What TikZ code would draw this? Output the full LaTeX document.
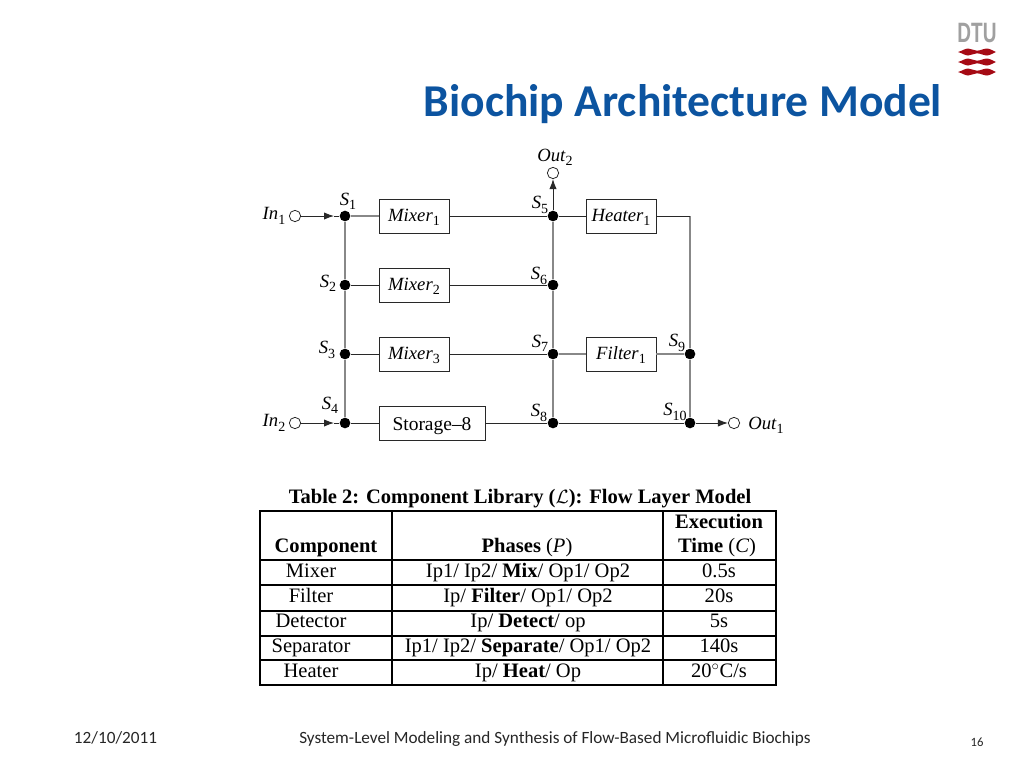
\documentclass[tikz,border=0pt]{standalone}
\usepackage{fontspec}
\setmainfont{Liberation Serif}
\newfontfamily\slidefont{Carlito}
\newfontfamily\logofont{Liberation Sans}
\usepackage{xcolor}
\usepackage{tikz}
\usetikzlibrary{arrows.meta}
\definecolor{titleblue}{RGB}{12,84,160}
\definecolor{wiregray}{RGB}{136,136,136}
\definecolor{wiredark}{RGB}{40,40,40}
\definecolor{logored}{RGB}{165,10,20}
\definecolor{logogray}{RGB}{160,160,160}
\newcommand{\unitlabel}[2]{\textit{#1}\raisebox{-0.5ex}{\fontsize{10.5}{11}\selectfont #2}}
\newcommand{\logowave}[1]{\fill[logored, shift={(0,#1)}] (958,0) .. controls (962,-1) and (965,-3.5) .. (968,-3.5) .. controls (971,-3.5) and (974,-1.3) .. (977,-1.3) .. controls (980,-1.3) and (984,-3.5) .. (987,-3.5) .. controls (990,-3.5) and (993,-1) .. (996,0) .. controls (993,1) and (990,3.5) .. (987,3.5) .. controls (984,3.5) and (980,1.3) .. (977,1.3) .. controls (974,1.3) and (971,3.5) .. (968,3.5) .. controls (965,3.5) and (962,1) .. (958,0) -- cycle;}

\begin{document}
\begin{tikzpicture}[
    x=0.75pt, y=-0.75pt,
    unitbox/.style={rectangle, draw=wiredark, line width=0.7pt, minimum height=25.5pt, inner sep=0pt, align=center, text height=9.5pt, text depth=2pt, font=\fontsize{14}{15}\selectfont},
    junction/.style={circle, fill=black, minimum size=8pt, inner sep=0pt},
    port/.style={circle, draw=wiredark, fill=white, line width=0.6pt, minimum size=8.5pt, inner sep=0pt},
    tag/.style={inner sep=0pt, font=\fontsize{14}{15}\selectfont},
    wire/.style={draw=wiredark, line width=0.7pt},
    bus/.style={draw=wiregray, line width=1pt},
    cell/.style={inner sep=0pt, anchor=base, font=\fontsize{15.4}{17}\selectfont},
    tablerule/.style={draw=black, line width=1.1pt},
    slide/.style={inner sep=0pt, anchor=base, text=black!85, font=\slidefont\fontsize{12.9}{15}\selectfont}
]
    \useasboundingbox (0,0) rectangle (1024,768);

    % Header
    \node[inner sep=0pt, anchor=base, text=titleblue, font=\slidefont\bfseries\fontsize{34.2}{38}\selectfont] (title) at (683,116) {Biochip Architecture Model};
    \node[inner sep=0pt, text=logogray, xscale=0.68, transform shape, font=\logofont\bfseries\fontsize{21}{22}\selectfont] (logo) at (977,33) {DTU};
    \logowave{52}
    \logowave{62}
    \logowave{72}

    % Junctions
    \node[junction] (s1) at (345,216) {};
    \node[junction] (s2) at (345,285) {};
    \node[junction] (s3) at (345,354) {};
    \node[junction] (s4) at (345,423) {};
    \node[junction] (s5) at (553,216) {};
    \node[junction] (s6) at (553,285) {};
    \node[junction] (s7) at (553,354) {};
    \node[junction] (s8) at (553,423) {};
    \node[junction] (s9) at (690,354) {};
    \node[junction] (s10) at (690,423) {};
    \coordinate (bend) at (690,216);

    % Components
    \node[unitbox, minimum width=52.5pt] (mixer1) at (414,216) {\unitlabel{Mixer}{1}};
    \node[unitbox, minimum width=52.5pt] (mixer2) at (414,285) {\unitlabel{Mixer}{2}};
    \node[unitbox, minimum width=52.5pt] (mixer3) at (414,354) {\unitlabel{Mixer}{3}};
    \node[unitbox, minimum width=79.5pt, text height=12pt, text depth=1pt, font=\fontsize{14.6}{15}\selectfont] (storage) at (432,423) {Storage--8};
    \node[unitbox, minimum width=52.5pt] (heater) at (621,216) {\unitlabel{Heater}{1}};
    \node[unitbox, minimum width=52.5pt] (filter) at (621,354) {\unitlabel{Filter}{1}};

    % Ports
    \node[port] (in1) at (295,216) {};
    \node[port] (in2) at (295,423) {};
    \node[port] (out1) at (734,423) {};
    \node[port] (out2) at (553,173) {};
    \coordinate (tip1) at (334,216);
    \coordinate (tip2) at (334,423);

    % Wires
    \draw[bus] (s1) -- (s2);
    \draw[bus] (s2) -- (s3);
    \draw[bus] (s3) -- (s4);
    \draw[bus] (s5) -- (s6);
    \draw[bus] (s6) -- (s7);
    \draw[bus] (s7) -- (s8);
    \draw[bus] (bend) -- (s9);
    \draw[bus] (s9) -- (s10);
    \draw[wire, -{Latex[length=7.5pt,width=5.5pt]}] (in1) -- (tip1);
    \draw[wire] (tip1) -- (s1);
    \draw[wire, -{Latex[length=7.5pt,width=5.5pt]}] (in2) -- (tip2);
    \draw[wire] (tip2) -- (s4);
    \draw[bus] (s1) -- (mixer1);
    \draw[wire] (mixer1) -- (s5);
    \draw[wire] (s2) -- (mixer2);
    \draw[wire] (mixer2) -- (s6);
    \draw[wire] (s3) -- (mixer3);
    \draw[wire] (mixer3) -- (s7);
    \draw[wire] (s4) -- (storage);
    \draw[wire] (storage) -- (s8);
    \draw[wire] (s5) -- (heater);
    \draw[wire] (heater) -- (bend);
    \draw[bus] (s7) -- (filter);
    \draw[bus] (filter) -- (s9);
    \draw[wire] (s8) -- (s10);
    \draw[wire, -{Latex[length=7.5pt,width=5.5pt]}] (s10) -- (out1);
    \draw[wire, -{Latex[length=7.5pt,width=5.5pt]}] (s5) -- (out2);

    % Labels
    \node[tag] (ls1) at (348,201) {\unitlabel{S}{1}};
    \node[tag] (ls2) at (328,283) {\unitlabel{S}{2}};
    \node[tag] (ls3) at (327,350) {\unitlabel{S}{3}};
    \node[tag] (ls4) at (330,405) {\unitlabel{S}{4}};
    \node[tag] (ls5) at (540,205) {\unitlabel{S}{5}};
    \node[tag] (ls6) at (539,276) {\unitlabel{S}{6}};
    \node[tag] (ls7) at (540,343) {\unitlabel{S}{7}};
    \node[tag] (ls8) at (539,413) {\unitlabel{S}{8}};
    \node[tag] (ls9) at (677,343) {\unitlabel{S}{9}};
    \node[tag] (ls10) at (675,412) {\unitlabel{S}{10}};
    \node[tag] (lin1) at (274,216) {\unitlabel{In}{1}};
    \node[tag] (lin2) at (274,423) {\unitlabel{In}{2}};
    \node[tag] (lout1) at (766,425) {\unitlabel{Out}{1}};
    \node[tag] (lout2) at (555,157) {\unitlabel{Out}{2}};

    % Table
    \node[cell, font=\bfseries\fontsize{15.4}{17}\selectfont] (caption) at (520,503) {Table 2: Component Library ($\mathcal{L}$): Flow Layer Model};
    \draw[tablerule] (260,511) rectangle (776,685);
    \draw[tablerule] (260,560) -- (776,560);
    \draw[tablerule] (260,585) -- (776,585);
    \draw[tablerule] (260,611) -- (776,611);
    \draw[tablerule] (260,636) -- (776,636);
    \draw[tablerule] (260,660) -- (776,660);
    \draw[tablerule] (392,511) -- (392,685);
    \draw[tablerule] (663,511) -- (663,685);

    % Table head
    \node[cell] (hcomp) at (326,552) {\textbf{Component}};
    \node[cell] (hphase) at (527,552) {\textbf{Phases} (\textit{P})};
    \node[cell] (hexec) at (719,528) {\textbf{Execution}};
    \node[cell] (htime) at (717,552) {\textbf{Time} (\textit{C})};

    % Table rows
    \node[cell] (mixer) at (311,577) {Mixer};
    \node[cell] (mixerp) at (528,577) {Ip1/ Ip2/ \textbf{Mix}/ Op1/ Op2};
    \node[cell] (mixert) at (719,577) {0.5s};
    \node[cell] (filt) at (311,602) {Filter};
    \node[cell] (filtp) at (528,602) {Ip/ \textbf{Filter}/ Op1/ Op2};
    \node[cell] (filtt) at (719,602) {20s};
    \node[cell] (detect) at (311,627) {Detector};
    \node[cell] (detectp) at (528,627) {Ip/ \textbf{Detect}/ op};
    \node[cell] (detectt) at (719,627) {5s};
    \node[cell] (separ) at (311,652) {Separator};
    \node[cell] (separp) at (528,652) {Ip1/ Ip2/ \textbf{Separate}/ Op1/ Op2};
    \node[cell] (separt) at (719,652) {140s};
    \node[cell] (heat) at (311,677) {Heater};
    \node[cell] (heatp) at (528,677) {Ip/ \textbf{Heat}/ Op};
    \node[cell] (heatt) at (719,677) {20$^{\circ}$C/s};

    % Footer
    \node[slide] (date) at (115.5,743) {12/10/2011};
    \node[slide] (talk) at (555,743) {System-Level Modeling and Synthesis of Flow-Based Microfluidic Biochips};
    \node[slide, font=\slidefont\fontsize{9.5}{10}\selectfont] (page) at (977,746) {16};
\end{tikzpicture}
\end{document}
